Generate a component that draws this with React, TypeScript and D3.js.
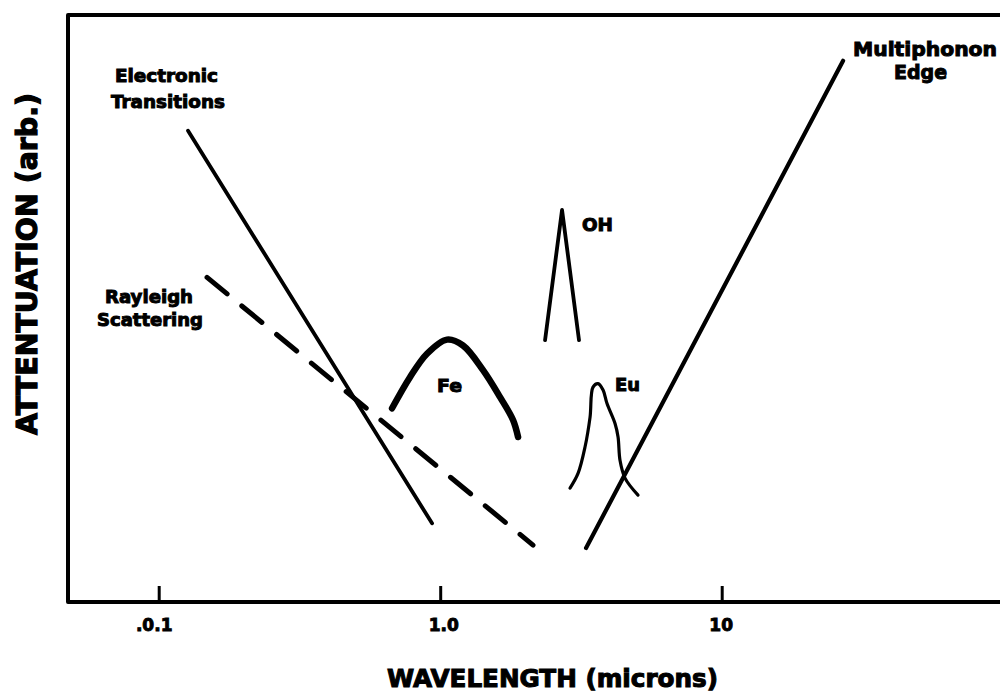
import React from "react";
import * as d3 from "d3";

// ---- data (wavelength in microns, attenuation in arbitrary units 0..100) ----
const xTicks = [0.1, 1, 10];
const xTickLabels = [".0.1", "1.0", "10"];

const electronicX = [0.1266, 0.9315];
const electronicY = [80.3, 13.4];

const rayleighX = [0.1479, 2.128];
const rayleighY = [55.3, 9.7];

const multiphononX = [3.284, 26.88];
const multiphononY = [9.2, 92.2];

const ohX = [2.348, 2.698, 3.1];
const ohY = [44.6, 66.8, 44.6];

const feX = [0.6717, 0.7779, 0.894, 1.053, 1.2, 1.414, 1.625, 1.807, 1.883];
const feY = [33.0, 38.3, 42.3, 44.7, 43.7, 39.5, 34.9, 31.0, 28.1];

const euX = [2.88, 3.075, 3.256, 3.393, 3.476, 3.622, 3.774, 3.898, 4.162, 4.266, 4.336, 4.516, 5.023];
const euY = [19.4, 21.9, 26.4, 31.5, 36.6, 37.2, 36.1, 33.8, 30.4, 28.1, 24.1, 21.1, 18.2];

const xTitle = "WAVELENGTH (microns)";
const yTitle = "ATTENTUATION (arb.)";

// ---- layout ----
const W = 1000;
const H = 692;
const frameLeft = 68;
const frameTop = 15;
const frameBottom = 602;

const x = d3.scaleLog().domain([0.1, 10]).range([159.2, 722.2]);
const y = d3.scaleLinear().domain([0, 100]).range([frameBottom, frameTop]);

const zip = (xs: number[], ys: number[]) => xs.map((v, i) => [v, ys[i]] as [number, number]);

const lineLinear = d3
  .line<[number, number]>()
  .x((d) => x(d[0]))
  .y((d) => y(d[1]));

const lineSmooth = d3
  .line<[number, number]>()
  .x((d) => x(d[0]))
  .y((d) => y(d[1]))
  .curve(d3.curveCatmullRom.alpha(0.5));

const FONT = "'DejaVu Sans', 'Liberation Sans', Arial, sans-serif";

type Lbl = { t: string; cx: number; by: number; w: number; fs: number };
const labels: Lbl[] = [
  { t: "Electronic", cx: 166.5, by: 82, w: 103, fs: 18 },
  { t: "Transitions", cx: 168, by: 108, w: 114, fs: 18 },
  { t: "Multiphonon", cx: 925, by: 56, w: 144, fs: 19.5 },
  { t: "Edge", cx: 920.5, by: 79, w: 53, fs: 19.5 },
  { t: "Rayleigh", cx: 149, by: 303, w: 88, fs: 18 },
  { t: "Scattering", cx: 150, by: 326, w: 106, fs: 18 },
  { t: "OH", cx: 597.5, by: 231, w: 31, fs: 18 },
  { t: "Fe", cx: 449.5, by: 392, w: 25, fs: 18 },
  { t: "Eu", cx: 627.5, by: 391, w: 25, fs: 18 },
];

export default function App() {
  return (
    <svg
      width={W}
      height={H}
      viewBox={`0 0 ${W} ${H}`}
      style={{ position: "absolute", left: 0, top: 0, background: "#fff" }}
    >
      <rect x={0} y={0} width={W} height={H} fill="#fff" />
      {/* frame (right side lies beyond the picture) */}
      <path
        d={`M ${W + 10} ${frameTop} H ${frameLeft} V ${frameBottom} H ${W + 10}`}
        fill="none"
        stroke="#000"
        strokeWidth={4}
        strokeLinejoin="round"
      />
      {/* ticks */}
      {xTicks.map((t, i) => (
        <g key={t}>
          <line
            x1={x(t)}
            x2={x(t)}
            y1={frameBottom}
            y2={frameBottom - 16}
            stroke="#000"
            strokeWidth={3}
          />
          <text
            x={x(t) + (i === 0 ? -5 : i === 1 ? 3 : -1)}
            y={631}
            textAnchor="middle"
            fontFamily={FONT}
            fontWeight="bold"
            fontSize={17}
            stroke="#000"
            strokeWidth={0.9}
          >
            {xTickLabels[i]}
          </text>
        </g>
      ))}
      {/* axis titles */}
      <text
        x={552.5}
        y={687}
        textAnchor="middle"
        fontFamily={FONT}
        fontWeight="bold"
        fontSize={25.5}
        textLength={331}
        lengthAdjust="spacingAndGlyphs"
        stroke="#000"
        strokeWidth={1.1}
      >
        {xTitle}
      </text>
      <text
        transform={`translate(37,264) rotate(-90)`}
        textAnchor="middle"
        fontFamily={FONT}
        fontWeight="bold"
        fontSize={28}
        textLength={342}
        lengthAdjust="spacingAndGlyphs"
        stroke="#000"
        strokeWidth={1.2}
      >
        {yTitle}
      </text>

      {/* curves */}
      <path
        d={lineLinear(zip(electronicX, electronicY)) || ""}
        fill="none"
        stroke="#000"
        strokeWidth={3.8}
        strokeLinecap="round"
      />
      <path
        d={lineLinear(zip(rayleighX, rayleighY)) || ""}
        fill="none"
        stroke="#000"
        strokeWidth={5}
        strokeLinecap="round"
        strokeDasharray="26 19"
      />
      <path
        d={lineLinear(zip(multiphononX, multiphononY)) || ""}
        fill="none"
        stroke="#000"
        strokeWidth={4.2}
        strokeLinecap="round"
      />
      <path
        d={lineLinear(zip(ohX, ohY)) || ""}
        fill="none"
        stroke="#000"
        strokeWidth={3.8}
        strokeLinecap="round"
        strokeLinejoin="round"
      />
      <path
        d={lineSmooth(zip(feX, feY)) || ""}
        fill="none"
        stroke="#000"
        strokeWidth={6.5}
        strokeLinecap="round"
        strokeLinejoin="round"
      />
      <path
        d={lineSmooth(zip(euX, euY)) || ""}
        fill="none"
        stroke="#000"
        strokeWidth={3.2}
        strokeLinecap="round"
        strokeLinejoin="round"
      />

      {/* annotations */}
      {labels.map((l) => (
        <text
          key={l.t}
          x={l.cx}
          y={l.by}
          textAnchor="middle"
          fontFamily={FONT}
          fontWeight="bold"
          fontSize={l.fs}
          textLength={l.w}
          lengthAdjust="spacingAndGlyphs"
          stroke="#000"
          strokeWidth={1}
        >
          {l.t}
        </text>
      ))}
    </svg>
  );
}
